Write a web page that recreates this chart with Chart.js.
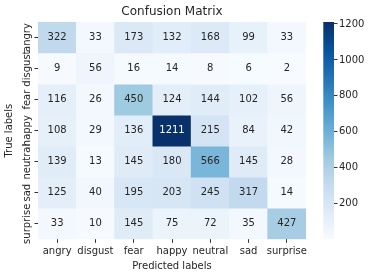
<!DOCTYPE html>
<html>
<head>
<meta charset="utf-8">
<script src="https://cdn.jsdelivr.net/npm/chart.js@4/dist/chart.umd.min.js"></script>
<style>
  html, body { margin: 0; padding: 0; background: #ffffff; }
  #wrap { position: relative; width: 373px; height: 278px; }
  #wrap canvas { position: absolute; left: 0; top: 0; }
</style>
</head>
<body>
<div id="wrap">
  <canvas id="main" width="373" height="278"></canvas>
  <canvas id="cbar" width="373" height="278"></canvas>
</div>
<script>
// ---- data ----
const predictedLabels = ['angry', 'disgust', 'fear', 'happy', 'neutral', 'sad', 'surprise'];
const trueLabels = ['angry', 'disgust', 'fear', 'happy', 'neutral', 'sad', 'surprise'];
const rowAngry    = [322, 33, 173, 132, 168, 99, 33];
const rowDisgust  = [9, 56, 16, 14, 8, 6, 2];
const rowFear     = [116, 26, 450, 124, 144, 102, 56];
const rowHappy    = [108, 29, 136, 1211, 215, 84, 42];
const rowNeutral  = [139, 13, 145, 180, 566, 145, 28];
const rowSad      = [125, 40, 195, 203, 245, 317, 14];
const rowSurprise = [33, 10, 145, 75, 72, 35, 427];
const colorbarTicks = [200, 400, 600, 800, 1000, 1200];

const matrix = [rowAngry, rowDisgust, rowFear, rowHappy, rowNeutral, rowSad, rowSurprise];
const allVals = matrix.flat();
const vmin = Math.min(...allVals);
const vmax = Math.max(...allVals);

// ---- Blues colormap ----
const bluesStops = ['#f7fbff', '#deebf7', '#c6dbef', '#9ecae1', '#6baed6', '#4292c6', '#2171b5', '#08519c', '#08306b'];
function hexToRgb(h) { return [parseInt(h.substr(1,2),16), parseInt(h.substr(3,2),16), parseInt(h.substr(5,2),16)]; }
const bluesRgb = bluesStops.map(hexToRgb);
function blues(t) {
  t = Math.max(0, Math.min(1, t));
  const p = t * (bluesRgb.length - 1);
  const i = Math.min(Math.floor(p), bluesRgb.length - 2);
  const f = p - i;
  const a = bluesRgb[i], b = bluesRgb[i + 1];
  return [0, 1, 2].map(k => Math.round(a[k] + (b[k] - a[k]) * f));
}
function colorFor(v) { const c = blues((v - vmin) / (vmax - vmin)); return `rgb(${c[0]},${c[1]},${c[2]})`; }
function textColorFor(v) {
  const c = blues((v - vmin) / (vmax - vmin)).map(x => {
    x = x / 255; return x <= 0.03928 ? x / 12.92 : Math.pow((x + 0.055) / 1.055, 2.4);
  });
  const lum = 0.2126 * c[0] + 0.7152 * c[1] + 0.0722 * c[2];
  return lum > 0.408 ? '#262626' : '#ffffff';
}

const FONT = 'DejaVu Sans';
const TEXT = '#262626';

const datasets = matrix.map((row, r) => ({
  label: trueLabels[r],
  data: row.map(() => [r, r + 1]),
  backgroundColor: row.map(colorFor),
  borderWidth: 0,
  barPercentage: 1,
  categoryPercentage: 1,
  grouped: false,
  values: row
}));

const annotatePlugin = {
  id: 'annotate',
  afterDatasetsDraw(chart) {
    const ctx = chart.ctx;
    ctx.save();
    ctx.font = `10px "${FONT}"`;
    ctx.textAlign = 'center';
    ctx.textBaseline = 'middle';
    chart.data.datasets.forEach((ds, r) => {
      const meta = chart.getDatasetMeta(r);
      meta.data.forEach((el, c) => {
        const v = ds.values[c];
        const yc = (el.y + el.base) / 2;
        ctx.fillStyle = textColorFor(v);
        ctx.fillText(String(v), el.x, yc);
      });
    });
    ctx.restore();
  }
};

const yLabelPlugin = {
  id: 'ylabels',
  afterDraw(chart) {
    const ctx = chart.ctx;
    const ys = chart.scales.y;
    ctx.save();
    ctx.font = `10px "${FONT}"`;
    ctx.fillStyle = TEXT;
    ctx.textAlign = 'center';
    ctx.textBaseline = 'alphabetic';
    trueLabels.forEach((lab, i) => {
      const yp = ys.getPixelForValue(i + 0.5);
      ctx.save();
      ctx.translate(29.5, yp);
      ctx.rotate(-Math.PI / 2);
      ctx.fillText(lab, 0, 0);
      ctx.restore();
    });
    ctx.restore();
  }
};

new Chart(document.getElementById('main'), {
  type: 'bar',
  data: { labels: predictedLabels, datasets },
  options: {
    responsive: false,
    animation: false,
    events: [],
    layout: { padding: { left: 0, right: 67, top: 0, bottom: 0 } },
    plugins: {
      legend: { display: false },
      tooltip: { enabled: false },
      title: {
        display: true,
        text: 'Confusion Matrix',
        fullSize: false,
        color: TEXT,
        font: { family: FONT, size: 12, weight: 'normal', lineHeight: 1.2 },
        padding: { top: 5, bottom: 2.6 }
      }
    },
    scales: {
      x: {
        type: 'category',
        offset: true,
        border: { display: false },
        grid: { display: true, drawOnChartArea: false, drawTicks: true, tickLength: 3.5, offset: false, color: '#333', lineWidth: 1 },
        ticks: { color: TEXT, font: { family: FONT, size: 10 }, padding: 3, maxRotation: 0, minRotation: 0, autoSkip: false },
        title: { display: true, text: 'Predicted labels', color: TEXT, font: { family: FONT, size: 10 }, padding: { top: 0, bottom: 5.5 } },
        afterFit(scale) { scale.height = 38.7; }
      },
      y: {
        type: 'linear',
        min: 0,
        max: trueLabels.length,
        reverse: true,
        border: { display: false },
        grid: { display: true, drawOnChartArea: false, drawTicks: true, tickLength: 3.5, color: '#333', lineWidth: 1 },
        ticks: { display: false },
        afterBuildTicks(scale) { scale.ticks = trueLabels.map((_, i) => ({ value: i + 0.5 })); },
        title: { display: true, text: 'True labels', color: TEXT, font: { family: FONT, size: 10 }, padding: { top: 3.7, bottom: 0 } },
        afterFit(scale) { scale.width = 38; }
      }
    }
  },
  plugins: [annotatePlugin, yLabelPlugin]
});

// ---- colorbar ----
new Chart(document.getElementById('cbar'), {
  type: 'bar',
  data: {
    labels: ['cb'],
    datasets: [{
      data: [[vmin, vmax]],
      borderWidth: 0,
      barPercentage: 1,
      categoryPercentage: 1,
      backgroundColor(ctx) {
        const ca = ctx.chart.chartArea;
        if (!ca) return '#6baed6';
        const g = ctx.chart.ctx.createLinearGradient(0, ca.bottom, 0, ca.top);
        bluesStops.forEach((c, i) => g.addColorStop(i / (bluesStops.length - 1), c));
        return g;
      }
    }]
  },
  options: {
    responsive: false,
    animation: false,
    events: [],
    layout: { padding: { left: 323.3, right: 0, top: 22, bottom: 38.7 } },
    plugins: { legend: { display: false }, tooltip: { enabled: false }, title: { display: false } },
    scales: {
      x: { display: false },
      y: {
        type: 'linear',
        position: 'right',
        min: vmin,
        max: vmax,
        border: { display: false },
        grid: { display: true, drawOnChartArea: false, drawTicks: true, tickLength: 3.5, color: '#333', lineWidth: 1 },
        ticks: { color: TEXT, font: { family: FONT, size: 10 }, padding: 1.5, callback: (v) => String(v) },
        afterBuildTicks(scale) { scale.ticks = colorbarTicks.map(v => ({ value: v })); },
        afterFit(scale) { scale.width = 373 - 334; }
      }
    }
  }
});
</script>
</body>
</html>
